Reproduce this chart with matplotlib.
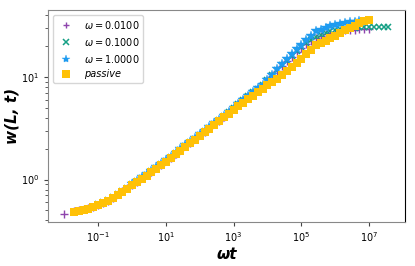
import matplotlib
matplotlib.use("Agg")
import matplotlib.pyplot as plt
from matplotlib.ticker import FixedLocator, NullLocator

# omega*t sampling points (log spaced, 7 per decade)
wt_grid = [0.0193, 0.0268, 0.0373, 0.0518, 0.0720,
           0.1, 0.139, 0.193, 0.268, 0.373, 0.518, 0.720,
           1.0, 1.39, 1.93, 2.68, 3.73, 5.18, 7.20,
           10.0, 13.9, 19.3, 26.8, 37.3, 51.8, 72.0,
           100.0, 139.0, 193.0, 268.0, 373.0, 518.0, 720.0,
           1.0e3, 1.39e3, 1.93e3, 2.68e3, 3.73e3, 5.18e3, 7.20e3,
           1.0e4, 1.39e4, 1.93e4, 2.68e4, 3.73e4, 5.18e4, 7.20e4,
           1.0e5, 1.39e5, 1.93e5, 2.68e5, 3.73e5, 5.18e5, 7.20e5,
           1.0e6, 1.39e6, 1.93e6, 2.68e6, 3.73e6, 5.18e6, 7.20e6,
           1.0e7, 1.39e7, 1.93e7, 2.68e7, 3.73e7]

wt_passive = wt_grid[0:62]
w_passive = [0.485, 0.496, 0.507, 0.518, 0.538, 0.561, 0.586, 0.617, 0.661, 0.708, 0.759, 0.816,
             0.878, 0.945, 1.017, 1.095, 1.178, 1.268, 1.372,
             1.486, 1.614, 1.757, 1.913, 2.076, 2.254, 2.447,
             2.658, 2.884, 3.133, 3.42, 3.715, 4.036, 4.385,
             4.764, 5.18, 5.63, 6.10, 6.58, 7.10, 7.66,
             8.26, 8.91, 9.61, 10.43, 11.37, 12.41, 13.56,
             15.10, 16.82, 18.45, 20.23, 21.41, 22.59, 23.87,
             25.29, 26.79, 28.31, 29.89, 31.62, 33.57, 34.99,
             35.97]

wt_001 = [0.01] + wt_grid[0:62]
w_001 = [0.466,
         0.491, 0.502, 0.513, 0.524, 0.544, 0.568, 0.593, 0.624, 0.669, 0.716, 0.768, 0.825,
         0.888, 0.956, 1.029, 1.108, 1.192, 1.283, 1.388,
         1.503, 1.633, 1.777, 1.935, 2.100, 2.280, 2.475,
         2.689, 2.917, 3.169, 3.46, 3.758, 4.083, 4.52,
         4.93, 5.40, 5.92, 6.46, 7.00, 7.59, 8.22,
         9.15, 10.25, 11.47, 12.79, 14.16, 15.70, 17.42,
         19.16, 20.8, 22.4, 24.1, 25.1, 26.1, 27.0,
         27.6, 28.2, 28.5, 28.7, 28.9, 29.0, 29.1,
         29.2]

wt_01 = wt_grid[5:66]
w_01 = [0.574, 0.599, 0.631, 0.676, 0.724, 0.776, 0.835,
        0.898, 0.967, 1.040, 1.120, 1.205, 1.297, 1.404,
        1.520, 1.651, 1.797, 1.957, 2.124, 2.306, 2.503,
        2.719, 2.950, 3.205, 3.499, 3.800, 4.129, 4.55,
        4.97, 5.44, 5.95, 6.53, 7.06, 7.64, 8.26,
        9.23, 10.34, 11.60, 12.94, 14.38, 15.99, 17.78,
        19.61, 21.3, 22.9, 24.7, 25.7, 26.7, 27.7,
        28.4, 29.2, 29.6, 30.0, 30.25, 30.35, 30.45,
        30.55, 30.55, 30.6, 30.6, 30.7]

wt_1 = wt_grid[12:60]
w_1 = [0.909, 0.978, 1.053, 1.133, 1.219, 1.312, 1.420,
       1.538, 1.670, 1.818, 1.980, 2.149, 2.333, 2.533,
       2.751, 2.985, 3.243, 3.540, 3.845, 4.177, 4.57,
       4.99, 5.46, 5.97, 6.54, 7.11, 7.71, 8.36,
       9.36, 10.51, 11.85, 13.29, 14.84, 16.60, 18.56,
       20.65, 22.80, 25.1, 27.7, 28.8, 29.9, 31.0,
       31.9, 32.8, 33.5, 34.1, 34.6, 35.1]

x_ticks = [1e-1, 1e1, 1e3, 1e5, 1e7]

fig, ax = plt.subplots(figsize=(4.15, 2.66), dpi=100)
fig.subplots_adjust(left=0.1157, right=0.9759, bottom=0.167, top=0.962)

ax.plot(wt_001, w_001, ls='none', marker='+', ms=5.5, mew=1.0,
        color='#8e44ad', label=r'$\omega = 0.0100$')
ax.plot(wt_01, w_01, ls='none', marker='x', ms=5, mew=1.1,
        color='#16a085', label=r'$\omega = 0.1000$')
ax.plot(wt_1, w_1, ls='none', marker='*', ms=7, mew=0.3,
        color='#1e9bf0', label=r'$\omega = 1.0000$')
ax.plot(wt_passive, w_passive, ls='none', marker='s', ms=6.3, mew=0,
        color='#ffc107', label='passive')

ax.set_xscale('log')
ax.set_yscale('log')
ax.set_xlim(10 ** -2.48, 10 ** 8.06)
ax.set_ylim(0.39, 44.7)
ax.xaxis.set_major_locator(FixedLocator(x_ticks))
ax.xaxis.set_minor_locator(NullLocator())

ax.tick_params(which='both', labelsize=7, color='#444444')
ax.tick_params(which='major', length=3)
ax.tick_params(which='minor', length=2)
for side in ['left', 'top', 'bottom']:
    ax.spines[side].set_color('#888888')
ax.spines['right'].set_color('black')

ax.set_xlabel('ωt', fontsize=11, fontweight='bold', fontstyle='italic', labelpad=2)
ax.set_ylabel('w(L, t)', fontsize=11, fontweight='bold', fontstyle='italic', labelpad=1)

leg = ax.legend(loc='upper left', fontsize=7, borderaxespad=0.5,
                markerscale=0.85)
leg.get_texts()[3].set_fontstyle('italic')

fig.savefig('out.png', dpi=100)
